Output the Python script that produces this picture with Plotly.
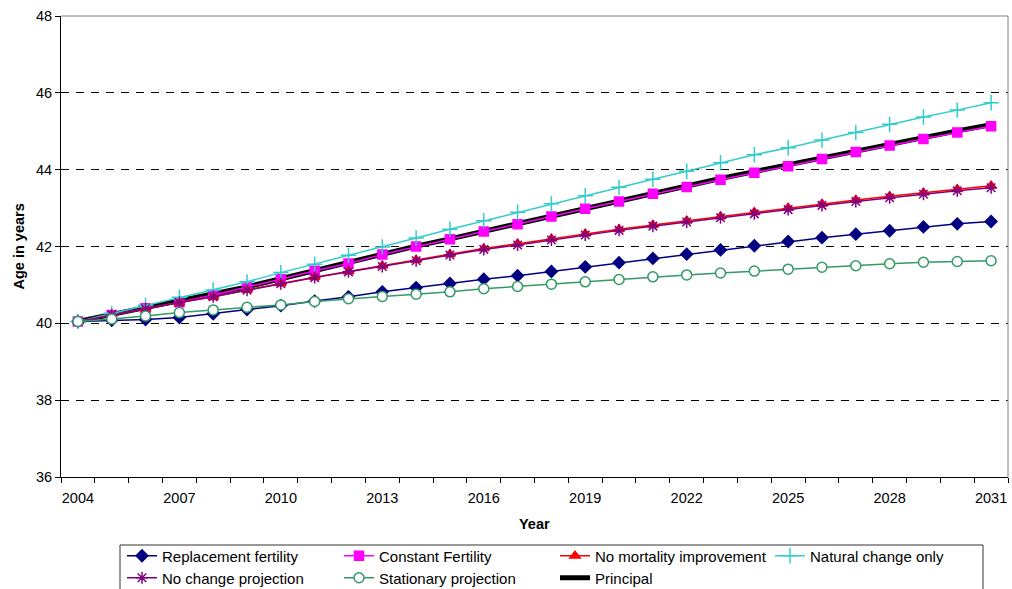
import plotly.graph_objects as go

# Projected median age by variant, 2004-2031
years = list(range(2004, 2032))

replacement_fertility = [40.05, 40.08, 40.10, 40.15, 40.25, 40.36, 40.46, 40.58, 40.69, 40.82,
                         40.93, 41.04, 41.15, 41.24, 41.35, 41.47, 41.58, 41.69, 41.80, 41.91,
                         42.02, 42.13, 42.23, 42.32, 42.41, 42.51, 42.59, 42.65]
constant_fertility = [40.05, 40.22, 40.39, 40.55, 40.74, 40.94, 41.15, 41.37, 41.56, 41.79,
                      42.00, 42.19, 42.39, 42.58, 42.78, 42.98, 43.17, 43.37, 43.55, 43.74,
                      43.92, 44.09, 44.28, 44.46, 44.63, 44.80, 44.97, 45.13]
no_mortality_improvement = [40.05, 40.22, 40.38, 40.54, 40.69, 40.87, 41.04, 41.20, 41.35, 41.50,
                            41.65, 41.80, 41.95, 42.07, 42.20, 42.33, 42.45, 42.56, 42.67, 42.78,
                            42.89, 43.00, 43.11, 43.21, 43.31, 43.40, 43.49, 43.58]
natural_change_only = [40.05, 40.26, 40.47, 40.68, 40.87, 41.08, 41.32, 41.54, 41.77, 41.99,
                       42.22, 42.45, 42.67, 42.89, 43.11, 43.32, 43.54, 43.75, 43.96, 44.18,
                       44.39, 44.57, 44.77, 44.97, 45.18, 45.37, 45.55, 45.74]
no_change_projection = [40.05, 40.22, 40.38, 40.54, 40.69, 40.86, 41.03, 41.19, 41.34, 41.48,
                        41.63, 41.78, 41.92, 42.04, 42.17, 42.30, 42.42, 42.53, 42.64, 42.75,
                        42.85, 42.96, 43.07, 43.17, 43.27, 43.36, 43.45, 43.53]
stationary_projection = [40.05, 40.11, 40.19, 40.28, 40.35, 40.42, 40.48, 40.57, 40.64, 40.70,
                         40.76, 40.82, 40.90, 40.96, 41.02, 41.08, 41.14, 41.21, 41.26, 41.31,
                         41.36, 41.41, 41.46, 41.50, 41.55, 41.59, 41.61, 41.63]
principal = [40.05, 40.23, 40.40, 40.56, 40.75, 40.95, 41.16, 41.38, 41.58, 41.80,
             42.01, 42.20, 42.40, 42.60, 42.80, 43.00, 43.19, 43.39, 43.58, 43.77,
             43.95, 44.13, 44.31, 44.49, 44.67, 44.84, 45.01, 45.17]

x_tick_years = [2004, 2007, 2010, 2013, 2016, 2019, 2022, 2025, 2028, 2031]
y_ticks = [36, 38, 40, 42, 44, 46, 48]

FONT = "Arial, Liberation Sans, sans-serif"
W, H = 1012, 589
TICK_SIZE = 14.5
LEGEND_SIZE = 15

fig = go.Figure()

# (name, values, colour, marker symbol, marker size, marker fill, legend id, legend pos px)
series = [
    ("Principal", principal, "#000000", None, 0, None, "legend7", (555, 578)),
    ("Replacement fertility", replacement_fertility, "#000080", "diamond", 9, "#000080", "legend", (122, 556)),
    ("Constant Fertility", constant_fertility, "#FF00FF", "square", 9, "#FF00FF", "legend2", (339, 556)),
    ("No mortality improvement", no_mortality_improvement, "#FF0000", "triangle-up", 9, "#FF0000", "legend3", (555, 556)),
    ("Natural change only", natural_change_only, "#33CCCC", "cross-thin", 11, "#33CCCC", "legend4", (770, 556)),
    ("No change projection", no_change_projection, "#800080", "asterisk", 10, "#800080", "legend5", (122, 578)),
    ("Stationary projection", stationary_projection, "#339966", "circle", 10, "#FFFFFF", "legend6", (339, 578)),
]

legend_layout = {}
for name, vals, col, sym, size, fill, leg, (lx, ly) in series:
    if sym is None:
        fig.add_trace(go.Scatter(
            x=years, y=vals, name=name, mode="lines",
            line=dict(color=col, width=5), legend=leg))
    else:
        fig.add_trace(go.Scatter(
            x=years, y=vals, name=name, mode="lines+markers",
            line=dict(color=col, width=1.5),
            marker=dict(symbol=sym, size=size, color=fill,
                        line=dict(color=col, width=1.5)),
            legend=leg))
    legend_layout[leg] = dict(
        x=lx / W, y=1 - ly / H, xref="container", yref="container",
        xanchor="left", yanchor="middle", bgcolor="rgba(0,0,0,0)",
        borderwidth=0, font=dict(family=FONT, size=LEGEND_SIZE, color="#000000"),
        itemwidth=30, tracegroupgap=0)

fig.update_layout(
    width=W, height=H,
    margin=dict(l=61, r=4, t=16, b=112, autoexpand=False),
    paper_bgcolor="white", plot_bgcolor="white",
    font=dict(family=FONT, size=TICK_SIZE, color="#000000"),
    showlegend=True,
    **legend_layout,
)

fig.update_xaxes(
    range=[2003.5, 2031.5],
    tickmode="array", tickvals=x_tick_years, ticktext=[str(y) for y in x_tick_years],
    ticks="", ticklabelstandoff=8, showgrid=False, zeroline=False,
    showline=True, linecolor="#000000", linewidth=1,
    tickfont=dict(family=FONT, size=TICK_SIZE),
    minor=dict(tickmode="array", tickvals=[y - 0.5 for y in years] + [2031.5],
               ticks="outside", ticklen=5, tickcolor="#000000", tickwidth=1,
               showgrid=False),
)
fig.update_yaxes(
    range=[36, 48],
    tickmode="array", tickvals=y_ticks, ticktext=[str(v) for v in y_ticks],
    ticks="outside", ticklen=5, tickcolor="#000000",
    showgrid=True, gridcolor="#000000", gridwidth=1, griddash="8px,7px",
    zeroline=False, showline=True, linecolor="#000000", linewidth=1,
    tickfont=dict(family=FONT, size=TICK_SIZE),
)

# plot-area border and legend frame
fig.add_shape(type="line", xref="paper", yref="paper", x0=0, x1=1, y0=1, y1=1,
              line=dict(color="#808080", width=1), layer="above")
fig.add_shape(type="line", xref="paper", yref="paper", x0=1, x1=1, y0=0, y1=1,
              line=dict(color="#808080", width=1), layer="above")
fig.add_shape(type="rect", xref="paper", yref="paper",
              x0=(120 - 61) / 947, x1=(983 - 61) / 947,
              y0=(477 - 545) / 461, y1=(477 - 600) / 461,
              line=dict(color="#333333", width=1), layer="below")

fig.add_annotation(text="<b>Year</b>", xref="paper", yref="paper",
                   x=0.5, y=(477 - 524) / 461, showarrow=False,
                   font=dict(family=FONT, size=TICK_SIZE), xanchor="center", yanchor="middle")
fig.add_annotation(text="<b>Age in years</b>", xref="paper", yref="paper",
                   x=(18 - 61) / 947, y=0.5, showarrow=False, textangle=-90,
                   font=dict(family=FONT, size=TICK_SIZE), xanchor="center", yanchor="middle")

fig.write_html("out.html")
